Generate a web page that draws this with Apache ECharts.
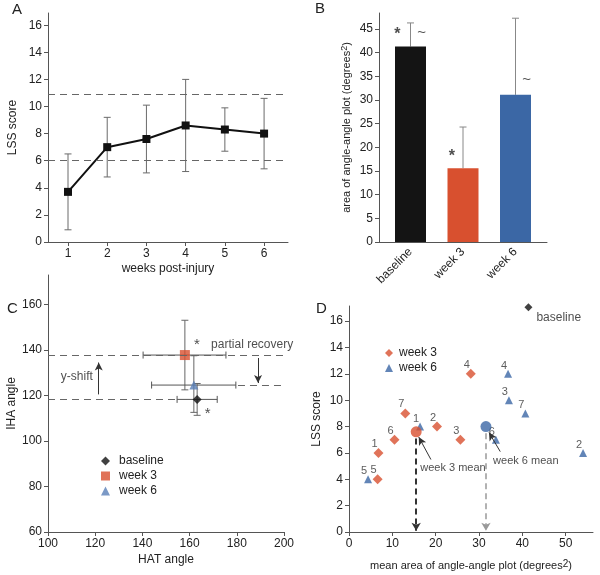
<!DOCTYPE html>
<html lang="en">
<head>
<meta charset="UTF-8">
<title>LSS / angle-angle panels</title>
<script src="https://cdn.jsdelivr.net/npm/echarts@6/dist/echarts.min.js"></script>
<style>
    *{ margin:0; padding:0; }
    body{ background:#fff; }
    #main{ width:600px; height:575px; }
</style>
</head>
<body>
<div id="main"></div>
<script>
// ---- panel A: LSS score by week ----
var weeks = [1, 2, 3, 4, 5, 6];
var lssMean = [3.7, 7.0, 7.6, 8.6, 8.3, 8.0];
var lssLow = [0.9, 4.8, 5.1, 5.2, 6.7, 5.4];
var lssHigh = [6.5, 9.2, 10.1, 12.0, 9.9, 10.6];
var lssNormal = [6.0, 10.9];
var lssTicks = [0, 2, 4, 6, 8, 10, 12, 14, 16];

// ---- panel B: area of angle-angle plot ----
var areaCats = ['baseline', 'week 3', 'week 6'];
var areaMean = [41.3, 15.6, 31.1];
var areaHigh = [46.3, 24.3, 47.3];
var areaTicks = [0, 5, 10, 15, 20, 25, 30, 35, 40, 45];

// ---- panel C: HAT vs IHA angle ----
var cGroups = ['baseline', 'week 3', 'week 6'];
var hatMean = [163.2, 158.0, 161.8];
var hatLow = [154.7, 140.3, 143.9];
var hatHigh = [171.7, 175.4, 179.6];
var ihaMean = [118.3, 137.8, 124.6];
var ihaLow = [111.3, 122.5, 112.6];
var ihaHigh = [125.3, 153.1, 137.5];
var hatTicks = [100, 120, 140, 160, 180, 200];
var ihaTicks = [60, 80, 100, 120, 140, 160];

// ---- panel D: LSS vs area per subject ----
var subjects = ['1', '2', '3', '4', '5', '6', '7'];
var w3Area = [6.8, 20.3, 25.7, 28.1, 6.6, 10.5, 13.0];
var w3Lss = [6, 8, 7, 12, 4, 7, 9];
var w6Area = [16.4, 54.0, 36.9, 36.7, 4.4, 33.9, 40.7];
var w6Lss = [8, 6, 10, 12, 4, 7, 9];
var meanArea = [15.5, 31.6];
var meanLss = [7.6, 8.0];
var baseArea = 41.4;
var baseLss = 17.05;
var areaDTicks = [0, 10, 20, 30, 40, 50];

var FONT = 'Liberation Sans, Arial, sans-serif';
var RED = '#d8502f';
var BLUE = '#3b67a5';
var INK = '#222';
var AX = '#555';

var myChart = echarts.init(document.getElementById('main'));

function errorBars(dir, color, lowCap) {
    return function (params, api) {
        var c = api.value(0), lo = api.value(1), hi = api.value(2);
        var a, b;
        if (dir === 'v') {
            a = api.coord([c, lo]); b = api.coord([c, hi]);
        } else {
            a = api.coord([lo, c]); b = api.coord([hi, c]);
        }
        var w = 3.5, st = { stroke: color, lineWidth: 1 };
        var cap = function (p) {
            return dir === 'v'
                ? { type: 'line', shape: { x1: p[0] - w, y1: p[1], x2: p[0] + w, y2: p[1] }, style: st }
                : { type: 'line', shape: { x1: p[0], y1: p[1] - w, x2: p[0], y2: p[1] + w }, style: st };
        };
        var kids = [{ type: 'line', shape: { x1: a[0], y1: a[1], x2: b[0], y2: b[1] }, style: st }, cap(b)];
        if (lowCap !== false) kids.push(cap(a));
        return { type: 'group', children: kids };
    };
}

// text placed at data coords: [x, y, text, fontSize, bold]
function textSeries(xi, yi, items) {
    return {
        type: 'scatter', xAxisIndex: xi, yAxisIndex: yi, symbolSize: 1, silent: true, z: 5,
        itemStyle: { color: 'rgba(0,0,0,0)' },
        data: items.map(function (t) {
            return {
                value: [t[0], t[1]],
                label: { formatter: t[2], fontSize: t[3] || 12, fontWeight: t[4] ? 'bold' : 'normal' }
            };
        }),
        label: { show: true, position: 'inside', color: INK, fontFamily: FONT }
    };
}

function valueAxis(grid, min, max, ticks, extra) {
    var ax = {
        gridIndex: grid, type: 'value', min: min, max: max,
        axisLine: { show: true, onZero: false, lineStyle: { color: AX } },
        axisTick: { show: true, length: 4, customValues: ticks, lineStyle: { color: AX } },
        axisLabel: { customValues: ticks, color: INK, fontSize: 12, fontFamily: FONT, margin: 6 },
        splitLine: { show: false },
        nameLocation: 'middle',
        nameTextStyle: { color: INK, fontSize: 12, fontFamily: FONT }
    };
    for (var k in extra) ax[k] = extra[k];
    return ax;
}

var dashed = { color: '#666', type: [7, 5], width: 1 };

var option = {
    animation: false,
    textStyle: { fontFamily: FONT },
    grid: [
        { left: 48, top: 13, width: 240, height: 229 },
        { left: 379, top: 13, width: 168, height: 229 },
        { left: 48, top: 275, width: 236, height: 257 },
        { left: 349, top: 306, width: 244, height: 226 }
    ],
    xAxis: [
        valueAxis(0, 0.49, 6.61, weeks, { name: 'weeks post-injury', nameGap: 21 }),
        valueAxis(1, -0.6, 2.6, [0, 1, 2], {
            axisTick: { show: false },
            axisLabel: {
                customValues: [0, 1, 2], rotate: 45, margin: 8, color: INK, fontSize: 12, fontFamily: FONT,
                formatter: function (v) { return areaCats[Math.round(v)]; }
            }
        }),
        valueAxis(2, 100, 200, hatTicks, { name: 'HAT angle', nameGap: 22 }),
        valueAxis(3, 0, 56.3, areaDTicks, {
            name: 'mean area of angle-angle plot (degrees{sup|2})', nameGap: 27,
            nameTextStyle: { color: INK, fontSize: 11, fontFamily: FONT, rich: { sup: { fontSize: 10, verticalAlign: 'top', padding: [0, 0, 4, 0] } } }
        })
    ],
    yAxis: [
        valueAxis(0, 0, 16.9, lssTicks, { name: 'LSS score', nameGap: 29 }),
        valueAxis(1, 0, 48.4, areaTicks, {
            name: 'area of angle-angle plot (degrees{sup|2})', nameGap: 26,
            nameTextStyle: { color: INK, fontSize: 11, fontFamily: FONT, rich: { sup: { fontSize: 9, verticalAlign: 'top', padding: [0, 0, 4, 0] } } }
        }),
        valueAxis(2, 60, 173, ihaTicks, { name: 'IHA angle', nameGap: 30 }),
        valueAxis(3, 0, 17.15, lssTicks, { name: 'LSS score', nameGap: 26 })
    ],
    legend: [
        {
            left: 96, top: 450, orient: 'vertical', itemGap: 3, itemWidth: 9, itemHeight: 9,
            textStyle: { color: INK, fontSize: 12, fontFamily: FONT, padding: [0, 0, 0, 4], lineHeight: 12 },
            data: [
                { name: 'baseline', icon: 'diamond', itemStyle: { color: '#111' } },
                { name: 'week 3', icon: 'rect', itemStyle: { color: RED } },
                { name: 'week 6', icon: 'triangle', itemStyle: { color: '#5a80b8' } }
            ]
        },
        {
            left: 380, top: 342, orient: 'vertical', itemGap: 3, itemWidth: 8, itemHeight: 8,
            textStyle: { color: INK, fontSize: 12, fontFamily: FONT, lineHeight: 12, padding: [0, 0, 0, 1] },
            data: [
                { name: 'week 3', icon: 'diamond', itemStyle: { color: RED } },
                { name: 'week 6', icon: 'triangle', itemStyle: { color: BLUE } }
            ]
        }
    ],
    graphic: [
        { type: 'text', left: 12, top: 2, style: { text: 'A', font: '15px ' + FONT, fill: INK } },
        { type: 'text', left: 315, top: 1, style: { text: 'B', font: '15px ' + FONT, fill: INK } },
        { type: 'text', left: 7, top: 301, style: { text: 'C', font: '15px ' + FONT, fill: INK } },
        { type: 'text', left: 316, top: 301, style: { text: 'D', font: '15px ' + FONT, fill: INK } }
    ],
    series: [
        // A
        {
            type: 'custom', xAxisIndex: 0, yAxisIndex: 0, silent: true, z: 1,
            renderItem: errorBars('v', '#6a6a6a'),
            data: weeks.map(function (w, i) { return [w, lssLow[i], lssHigh[i]]; })
        },
        {
            name: 'LSS', type: 'line', xAxisIndex: 0, yAxisIndex: 0, z: 3,
            symbol: 'rect', symbolSize: 8, color: '#111',
            lineStyle: { color: '#111', width: 2 },
            data: weeks.map(function (w, i) { return [w, lssMean[i]]; }),
            markLine: {
                silent: true, symbol: 'none', label: { show: false }, lineStyle: dashed,
                data: lssNormal.map(function (v) { return { yAxis: v }; })
            }
        },
        // B
        {
            type: 'bar', xAxisIndex: 1, yAxisIndex: 1, barWidth: 31, z: 2,
            data: areaCats.map(function (c, i) {
                return { value: [i, areaMean[i]], itemStyle: { color: ['#141414', RED, BLUE][i] } };
            })
        },
        {
            type: 'custom', xAxisIndex: 1, yAxisIndex: 1, silent: true, z: 1,
            renderItem: errorBars('v', '#888', false),
            data: areaCats.map(function (c, i) { return [i, areaMean[i], areaHigh[i]]; })
        },
        textSeries(1, 1, [
            [-0.25, 43.8, '*', 16, true], [0.21, 44.2, '~', 15],
            [0.79, 18.0, '*', 16, true], [2.21, 34.3, '~', 15]
        ]),
        // C
        {
            type: 'line', xAxisIndex: 2, yAxisIndex: 2, data: [], silent: true,
            markLine: {
                silent: true, label: { show: false },
                data: [
                    [{ coord: [100, ihaMean[1]], symbol: 'none', lineStyle: dashed }, { coord: [200, ihaMean[1]], symbol: 'none' }],
                    [{ coord: [180.5, ihaMean[2]], symbol: 'none', lineStyle: dashed }, { coord: [200, ihaMean[2]], symbol: 'none' }],
                    [{ coord: [100, ihaMean[0]], symbol: 'none', lineStyle: dashed }, { coord: [154, ihaMean[0]], symbol: 'none' }],
                    [{ coord: [121.5, 120.5], symbol: 'none', lineStyle: { color: '#333', type: 'solid', width: 1 } },
                     { coord: [121.5, 134.5], symbol: 'arrow', symbolSize: [6, 8] }],
                    [{ coord: [189, 136.5], symbol: 'none', lineStyle: { color: '#333', type: 'solid', width: 1 } },
                     { coord: [189, 125.5], symbol: 'arrow', symbolSize: [6, 8] }]
                ]
            }
        },
        {
            type: 'custom', xAxisIndex: 2, yAxisIndex: 2, silent: true, z: 1,
            renderItem: errorBars('v', '#666'),
            data: cGroups.map(function (g, i) { return [hatMean[i], ihaLow[i], ihaHigh[i]]; })
        },
        {
            type: 'custom', xAxisIndex: 2, yAxisIndex: 2, silent: true, z: 1,
            renderItem: errorBars('h', '#555'),
            data: cGroups.map(function (g, i) { return [ihaMean[i], hatLow[i], hatHigh[i]]; })
        },
        {
            name: 'baseline', type: 'scatter', xAxisIndex: 2, yAxisIndex: 2, symbol: 'diamond', symbolSize: 9, z: 4,
            itemStyle: { color: '#111' }, data: [[hatMean[0], ihaMean[0]]]
        },
        {
            name: 'week 3', type: 'scatter', xAxisIndex: 2, yAxisIndex: 2, symbol: 'rect', symbolSize: 10, z: 4,
            itemStyle: { color: RED }, data: [[hatMean[1], ihaMean[1]]]
        },
        {
            name: 'week 6', type: 'scatter', xAxisIndex: 2, yAxisIndex: 2, symbol: 'triangle', symbolSize: 9, z: 4,
            itemStyle: { color: '#5a80b8' }, data: [[hatMean[2], ihaMean[2]]]
        },
        textSeries(2, 2, [
            [112.2, 128.1, 'y-shift'], [186.5, 142.4, 'partial recovery'],
            [163.1, 142.2, '*', 15], [167.7, 111.8, '*', 15]
        ]),
        // D
        {
            name: 'week 3', type: 'scatter', xAxisIndex: 3, yAxisIndex: 3, symbol: 'diamond', symbolSize: 10, z: 3,
            itemStyle: { color: RED },
            label: { show: true, position: 'inside', offset: [-4, -9], color: '#333', fontSize: 11, fontFamily: FONT,
                formatter: function (p) { return p.data[2]; } },
            data: subjects.map(function (s, i) { return [w3Area[i], w3Lss[i], s]; })
        },
        {
            name: 'week 6', type: 'scatter', xAxisIndex: 3, yAxisIndex: 3, symbol: 'triangle', symbolSize: 8, z: 3,
            itemStyle: { color: BLUE },
            label: { show: true, position: 'inside', offset: [-4, -8], color: '#333', fontSize: 11, fontFamily: FONT,
                formatter: function (p) { return p.data[2]; } },
            data: subjects.map(function (s, i) { return [w6Area[i], w6Lss[i], s]; })
        },
        {
            type: 'scatter', xAxisIndex: 3, yAxisIndex: 3, symbol: 'circle', symbolSize: 11, z: 4, silent: true,
            data: [
                { value: [meanArea[0], meanLss[0]], itemStyle: { color: RED } },
                { value: [meanArea[1], meanLss[1]], itemStyle: { color: BLUE } }
            ],
            markLine: {
                silent: true, label: { show: false },
                data: [
                    [{ coord: [meanArea[0], 7.1], symbol: 'none', lineStyle: { color: '#333', type: [6, 4], width: 2 } },
                     { coord: [meanArea[0], 0.1], symbol: 'arrow', symbolSize: [7, 8] }],
                    [{ coord: [meanArea[1], 7.5], symbol: 'none', lineStyle: { color: '#999', type: [6, 4], width: 1.5 } },
                     { coord: [meanArea[1], 0.1], symbol: 'arrow', symbolSize: [7, 8] }],
                    [{ coord: [18.9, 5.5], symbol: 'none', lineStyle: { color: '#333', type: 'solid', width: 1 } },
                     { coord: [16.1, 7.2], symbol: 'arrow', symbolSize: [6, 8] }],
                    [{ coord: [34.9, 6.1], symbol: 'none', lineStyle: { color: '#333', type: 'solid', width: 1 } },
                     { coord: [32.3, 7.55], symbol: 'arrow', symbolSize: [6, 8] }]
                ]
            }
        },
        {
            name: 'baseline', type: 'scatter', xAxisIndex: 3, yAxisIndex: 3, symbol: 'diamond', symbolSize: 8, z: 4,
            itemStyle: { color: '#111' }, data: [[baseArea, baseLss]]
        },
        textSeries(3, 3, [
            [24.0, 4.87, 'week 3 mean', 11], [40.8, 5.42, 'week 6 mean', 11],
            [48.4, 16.3, 'baseline', 12]
        ])
    ]
};

myChart.setOption(option);
</script>
</body>
</html>
